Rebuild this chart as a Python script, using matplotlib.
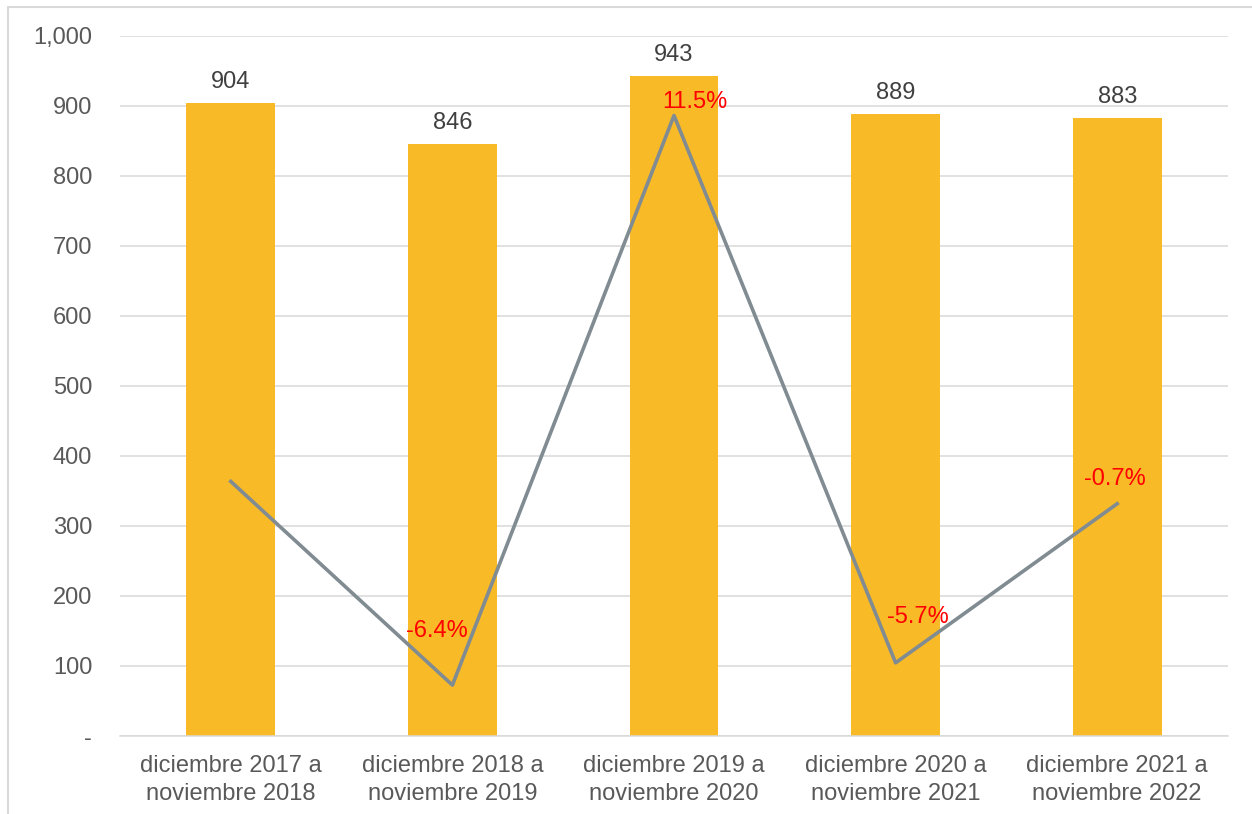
import matplotlib
matplotlib.use("Agg")
import matplotlib.pyplot as plt
from matplotlib.ticker import FuncFormatter
from matplotlib.patches import Rectangle

plt.rcParams['font.family'] = ['Liberation Sans', 'DejaVu Sans']

categories = ["diciembre 2017 a\nnoviembre 2018", "diciembre 2018 a\nnoviembre 2019",
              "diciembre 2019 a\nnoviembre 2020", "diciembre 2020 a\nnoviembre 2021",
              "diciembre 2021 a\nnoviembre 2022"]
values = [904, 846, 943, 889, 883]
pct_change = [0.0, -6.4, 11.5, -5.7, -0.7]
pct_labels = ["", "-6.4%", "11.5%", "-5.7%", "-0.7%"]
# label offsets in pixels (dx, dy) - manual placement as in reference
pct_offsets = [(0, 0), (-16, 54), (21, 14), (22, 46), (-2, 25)]

FS = 17
W, H = 1252, 814
fig = plt.figure(figsize=(W / 100, H / 100), dpi=100)
ax = fig.add_axes([120 / W, 1 - 736 / H, (1228 - 120) / W, (736 - 36) / H])

# outer border
fig.patches.append(Rectangle((8 / W, -0.1), 1.2, 1 - 7 / H + 0.1, transform=fig.transFigure,
                             fill=False, edgecolor='#D9D9D9', linewidth=1.5))

x = list(range(len(categories)))
bars = ax.bar(x, values, width=0.4, color='#F9BA27', zorder=2)
ax.set_xlim(-0.5, len(categories) - 0.5)
ax.set_ylim(0, 1000)
ax.set_yticks(range(0, 1001, 100))
ax.yaxis.set_major_formatter(FuncFormatter(lambda v, p: "-" if v == 0 else f"{int(v):,}"))
ax.set_xticks(x)
ax.set_xticklabels(categories, linespacing=1.3)
ax.grid(axis='y', color='#D9D9D9', linewidth=1.1, zorder=0)
ax.set_axisbelow(True)
for s in ['top', 'right', 'left']:
    ax.spines[s].set_visible(False)
ax.spines['bottom'].set_color('#D9D9D9')
ax.spines['bottom'].set_linewidth(1.1)
ax.tick_params(axis='both', length=0, labelsize=FS, labelcolor='#595959')
ax.tick_params(axis='x', pad=14)
ax.tick_params(axis='y', pad=20)

for xi, v in zip(x, values):
    ax.annotate(f"{v}", (xi, v), xytext=(0, 7), textcoords='offset points',
                ha='center', va='bottom', fontsize=FS, color='#404040')

ax2 = ax.twinx()
ax2.set_ylim(-0.08, 0.14)
ax2.axis('off')
ax2.plot(x, [p / 100 for p in pct_change], color='#808B92', linewidth=2.6, zorder=3)
for xi, p, lab, (dx, dy) in zip(x, pct_change, pct_labels, pct_offsets):
    if lab:
        ax2.annotate(lab, (xi, p / 100), xytext=(dx * 0.72, dy * 0.72), textcoords='offset points',
                     ha='center', va='center', fontsize=FS, color='#FF0000')

fig.savefig("out.png", dpi=100)
